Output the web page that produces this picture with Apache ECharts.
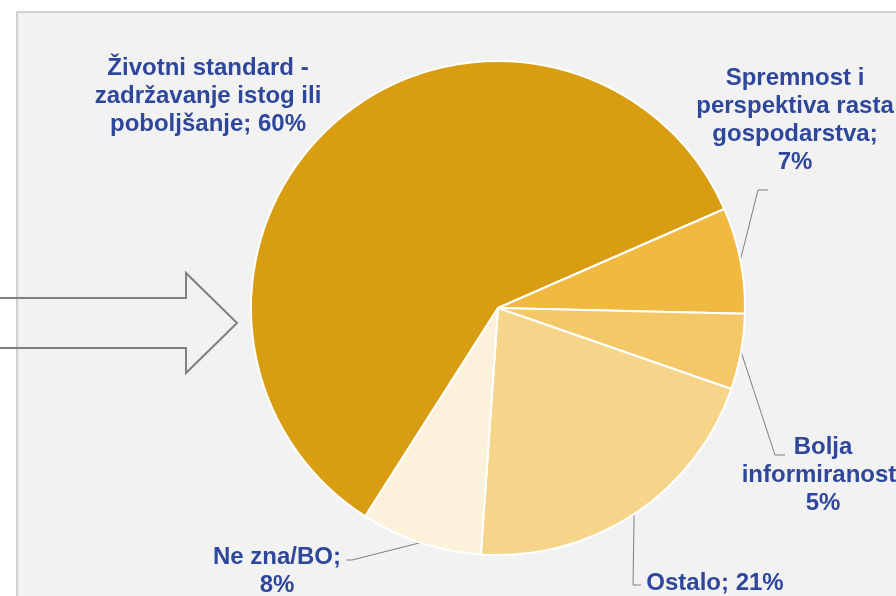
<!DOCTYPE html>
<html lang="hr">
<head>
<meta charset="UTF-8">
<title>Pie</title>
<script src="https://cdn.jsdelivr.net/npm/echarts@6/dist/echarts.min.js"></script>
<style>
  html, body { margin: 0; padding: 0; background: #fff; }
  #main { width: 896px; height: 596px; }
</style>
</head>
<body>
<div id="main"></div>
<script>
// podaci
var categories = ['Životni standard - zadržavanje istog ili poboljšanje',
                  'Spremnost i perspektiva rasta gospodarstva',
                  'Bolja informiranost',
                  'Ostalo',
                  'Ne zna/BO'];
var values = [60, 7, 5, 21, 8];
var labelTexts = ['Životni standard -\nzadržavanje istog ili\npoboljšanje; ',
                  'Spremnost i\nperspektiva rasta\ngospodarstva;\n',
                  'Bolja\ninformiranost;\n',
                  'Ostalo; ',
                  'Ne zna/BO;\n'];
var colors = ['#D99D12', '#F0B940', '#F4C767', '#F6D48A', '#FCF1DA'];

// položaj natpisa (sredina, vrh) i lom linije
var labelSpots = [
  { x: 208, y: 54, elbow: null },
  { x: 795, y: 64, elbow: [[758, 190], [768, 190]] },
  { x: 823, y: 433, elbow: [[775, 455], [785, 455]] },
  { x: 715, y: 569, elbow: [[633, 585], [641, 585]] },
  { x: 277, y: 543, elbow: [[352, 560], [346, 560]] }
];

var cx = 498, cy = 308, R = 247, startAngle = 237.5;
var total = values.reduce(function (a, b) { return a + b; }, 0);

function anchorPoint(i) {
  var cum = 0;
  for (var k = 0; k < i; k++) cum += values[k];
  var a = (startAngle - (cum + values[i] / 2) / total * 360) * Math.PI / 180;
  return [cx + R * Math.cos(a), cy - R * Math.sin(a)];
}

var myChart = echarts.init(document.getElementById('main'));

var option = {
  animation: false,
  graphic: [
    {
      type: 'rect', z: -1,
      shape: { x: 17, y: 12, width: 900, height: 600 },
      style: { fill: '#f2f2f2', stroke: '#c4c4c4', lineWidth: 1.5 }
    },
    {
      type: 'polygon', z: 10,
      shape: { points: [[-5, 298], [186, 298], [186, 273], [237, 323], [186, 373], [186, 348], [-5, 348]] },
      style: { fill: 'none', stroke: '#808080', lineWidth: 2 }
    }
  ],
  series: [{
    type: 'pie',
    center: [cx, cy],
    radius: R,
    startAngle: startAngle,
    clockwise: true,
    avoidLabelOverlap: false,
    itemStyle: { borderColor: '#fff', borderWidth: 2 },
    label: {
      show: true,
      formatter: function (p) { return labelTexts[p.dataIndex] + p.value + '%'; },
      color: '#2E479B',
      fontFamily: 'Liberation Sans, Arial, sans-serif',
      fontWeight: 'bold',
      fontSize: 24,
      lineHeight: 28,
      align: 'center'
    },
    labelLine: {
      show: true,
      lineStyle: { color: '#7f7f7f', width: 1 }
    },
    labelLayout: function (params) {
      var i = params.dataIndex;
      var s = labelSpots[i];
      var out = { x: s.x, y: s.y, align: 'center', verticalAlign: 'top' };
      if (s.elbow) {
        out.labelLinePoints = [anchorPoint(i), s.elbow[0], s.elbow[1]];
      } else {
        out.labelLinePoints = [anchorPoint(i), anchorPoint(i), anchorPoint(i)];
      }
      return out;
    },
    data: categories.map(function (c, i) {
      return { name: c, value: values[i], itemStyle: { color: colors[i] } };
    })
  }]
};

myChart.setOption(option);
</script>
</body>
</html>
